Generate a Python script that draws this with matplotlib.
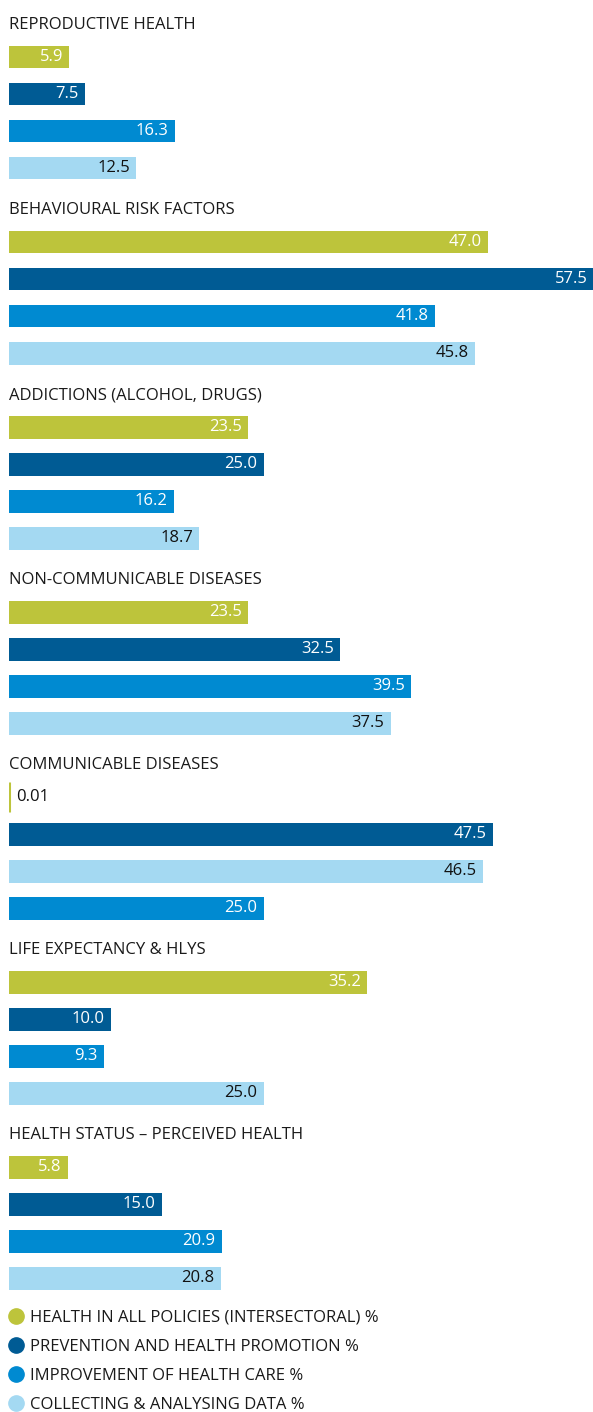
import matplotlib.pyplot as plt
from matplotlib.lines import Line2D

plt.rcParams['font.family'] = ['Open Sans', 'DejaVu Sans']

# data
groups = ['REPRODUCTIVE HEALTH', 'BEHAVIOURAL RISK FACTORS', 'ADDICTIONS (ALCOHOL, DRUGS)',
          'NON-COMMUNICABLE DISEASES', 'COMMUNICABLE DISEASES', 'LIFE EXPECTANCY & HLYS',
          'HEALTH STATUS \u2013 PERCEIVED HEALTH']
series = ['HEALTH IN ALL POLICIES (INTERSECTORAL) %', 'PREVENTION AND HEALTH PROMOTION %',
          'IMPROVEMENT OF HEALTH CARE %', 'COLLECTING & ANALYSING DATA %']
intersectoral = [5.9, 47.0, 23.5, 23.5, 0.01, 35.2, 5.8]
prevention = [7.5, 57.5, 25.0, 32.5, 47.5, 10.0, 15.0]
health_care = [16.3, 41.8, 16.2, 39.5, 25.0, 9.3, 20.9]
data_coll = [12.5, 45.8, 18.7, 37.5, 46.5, 25.0, 20.8]
# order of the bars inside each group (communicable diseases is shuffled in the source)
orders = [[0, 1, 2, 3]] * 4 + [[0, 1, 3, 2]] + [[0, 1, 2, 3]] * 2

colors = ['#BDC43B', '#005B94', '#008AD1', '#A4D9F2']
txt_colors = ['white', 'white', 'white', '#111111']
values = [intersectoral, prevention, health_care, data_coll]

fig = plt.figure(figsize=(5.93, 14.12), dpi=100)
ax = fig.add_axes([9 / 593, 1 - 1290 / 1412, 1 - 9 / 593, 1290 / 1412])

for g, name in enumerate(groups):
    base = g * 5
    ax.text(0, base + 0.135, name, ha='left', va='center', fontsize=12, color='#1a1a1a')
    for k, s in enumerate(orders[g]):
        v = values[s][g]
        y = base + 1 + k
        if v < 0.5:
            ax.barh(y, v, height=0.8, color=colors[s], edgecolor=colors[s], linewidth=2.2)
            ax.annotate(f'{v:g}', (v, y), xytext=(5, 0), textcoords='offset points',
                        ha='left', va='center', fontsize=12, color='#111111',
                        annotation_clip=False)
        else:
            ax.barh(y, v, height=0.62, color=colors[s], linewidth=0)
            ax.annotate(f'{v:.1f}', (v, y), xytext=(-4.5, 0), textcoords='offset points',
                        ha='right', va='center', fontsize=12, color=txt_colors[s],
                        annotation_clip=False)

ax.set_xlim(0, 57.35)
ax.set_ylim(34.32, -0.54)
ax.axis('off')

handles = [Line2D([], [], marker='o', linestyle='none', markersize=11,
                  markerfacecolor=c, markeredgecolor=c) for c in colors]
fig.legend(handles, series, loc='upper left', bbox_to_anchor=(8 / 593, 1 - 1310 / 1412),
           frameon=False, fontsize=12, labelspacing=0.78, handletextpad=0.4,
           handlelength=0.9, borderpad=0, borderaxespad=0, labelcolor='#1a1a1a')

fig.savefig('out.png', dpi=100)
